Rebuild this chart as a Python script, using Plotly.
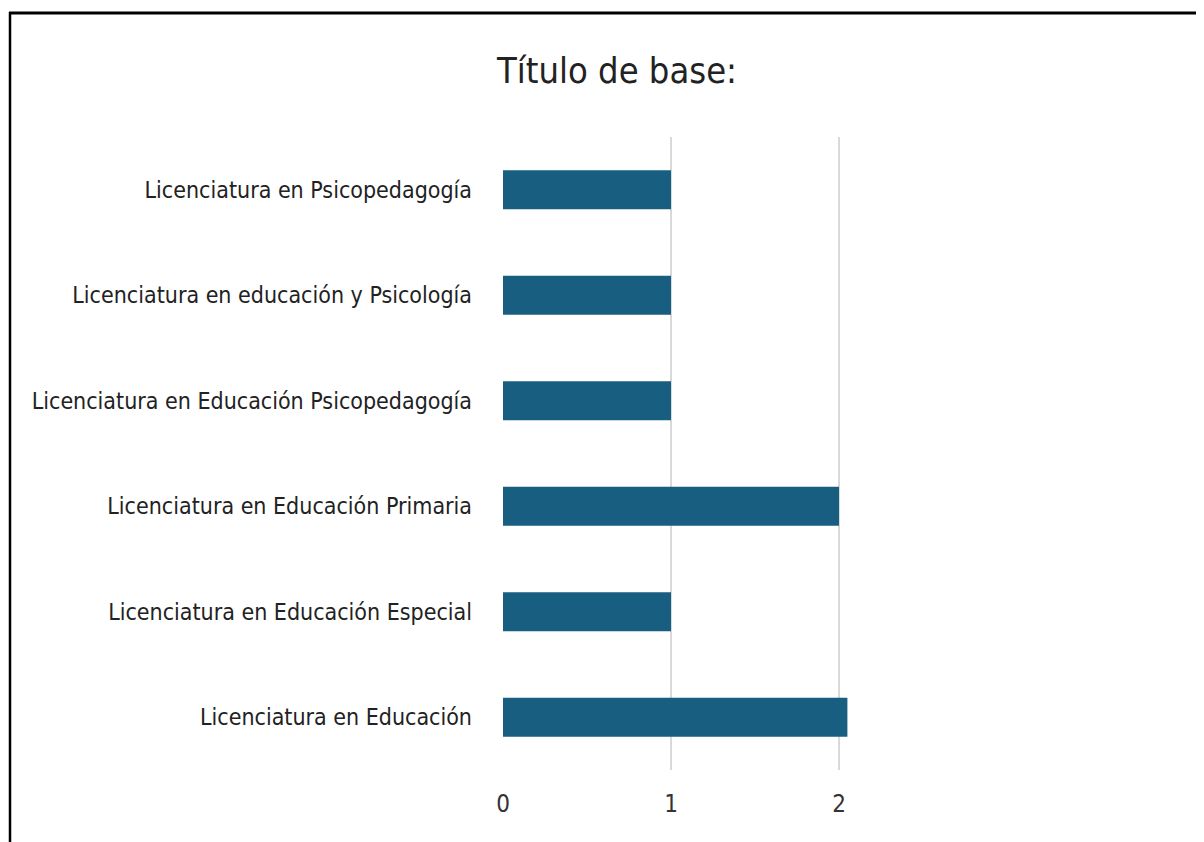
import plotly.graph_objects as go

categories = [
    "Licenciatura en Educación",
    "Licenciatura en Educación Especial",
    "Licenciatura en Educación Primaria",
    "Licenciatura en Educación Psicopedagogía",
    "Licenciatura en educación y Psicología",
    "Licenciatura en Psicopedagogía",
]
values = [2.05, 1, 2, 1, 1, 1]
x_ticks = [0, 1, 2]
title_text = "Título de base:"

W, H = 1204, 842
OFF = 8  # page body margin
L, R, T, B = 503 - OFF, 1007 - OFF, 137 - OFF, 770 - OFF

FONT = "DejaVu Sans Condensed, Roboto, sans-serif"

fig = go.Figure(go.Bar(
    y=categories, x=values, orientation="h",
    marker=dict(color="#185e80", line=dict(width=0)),
))

pw, ph = R - L, B - T
def px(x):
    return (x - OFF - L) / pw
def py(y):
    return (B - (y - OFF)) / ph

fig.update_layout(
    width=W, height=H,
    margin=dict(l=L, r=W - R, t=T, b=H - B, pad=0),
    paper_bgcolor="white", plot_bgcolor="white",
    bargap=0.63,
    showlegend=False,
    title=dict(text=title_text, x=(617 - OFF) / W, xanchor="center", y=1 - (70 - OFF) / H, yanchor="middle",
               font=dict(family=FONT, size=36, color="#222222")),
    xaxis=dict(range=[0, 3], tickvals=x_ticks, ticktext=[str(v) for v in x_ticks],
               showgrid=True, gridcolor="#d9d9d9", gridwidth=1.5, zeroline=False,
               showline=False, ticks="", ticklen=0, ticklabelstandoff=17,
               tickfont=dict(family=FONT, size=24, color="#333333")),
    yaxis=dict(showgrid=False, zeroline=False, showline=False, ticks="",
               ticklabelstandoff=30,
               tickfont=dict(family=FONT, size=23, color="#222222")),
    shapes=[
        dict(type="line", xref="paper", yref="paper", x0=px(9), x1=px(W + 20), y0=py(13), y1=py(13),
             line=dict(color="black", width=3)),
        dict(type="line", xref="paper", yref="paper", x0=px(10), x1=px(10), y0=py(12), y1=py(H + 20),
             line=dict(color="black", width=2.5)),
    ],
)

fig.write_html("out.html")
